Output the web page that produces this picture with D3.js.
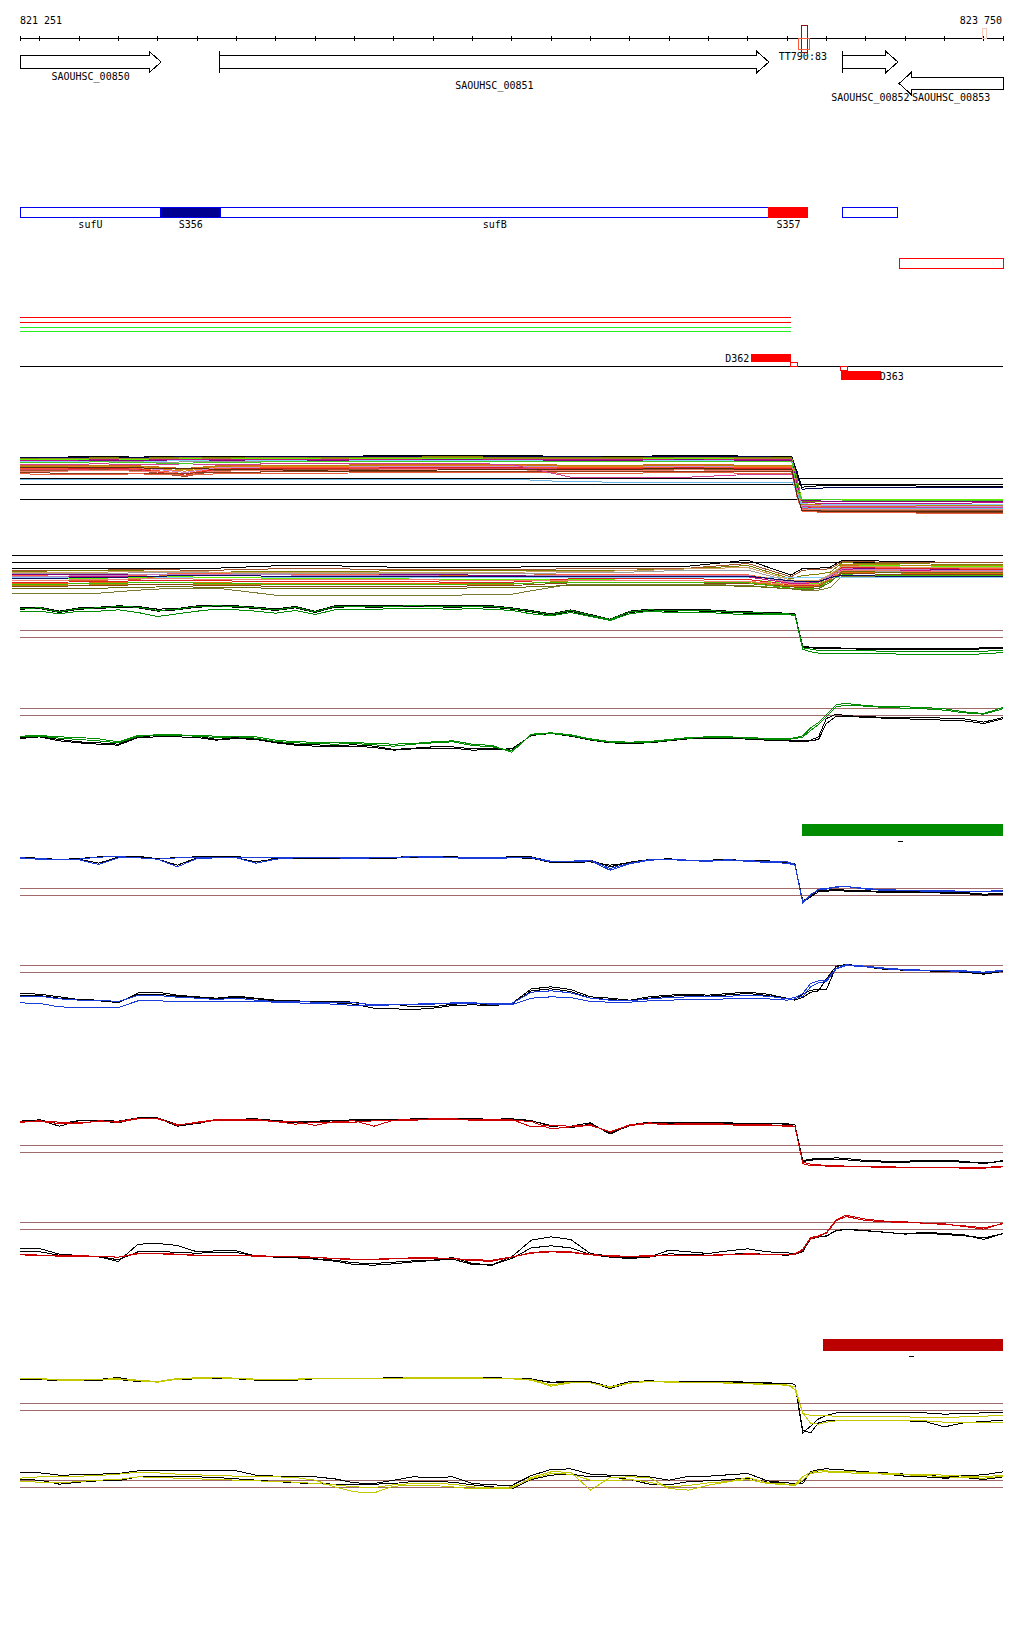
<!DOCTYPE html>
<html>
<head>
<meta charset="utf-8">
<script src="https://cdn.jsdelivr.net/npm/d3@7"></script>
<style>
html,body{margin:0;padding:0;background:#fff;}
svg{display:block;}
text{font-family:"DejaVu Sans Mono","Liberation Mono",monospace;font-size:10px;fill:#000;}
</style>
</head>
<body>
<svg id="chart" width="1024" height="1640" shape-rendering="crispEdges"></svg>
<script>
// ---------------- DATA ----------------
const regionStart = 821251, regionEnd = 823750;

const genes = [
  {name:"SAOUHSC_00850", start:821251, end:821610, strand:1},
  {name:"SAOUHSC_00851", start:821759, end:823155, strand:1},
  {name:"SAOUHSC_00852", start:823343, end:823483, strand:1},
  {name:"SAOUHSC_00853", start:823486, end:823750, strand:-1}
];
const terminatorLabel = {name:"TT790:83", pos:823180};
const terminatorBoxes = [
  {start:823237, end:823253, kind:"dark"},
  {start:823230, end:823258, kind:"light"},
  {start:823697, end:823709, kind:"pale"}
];
const transcripts = [
  {name:"sufU", start:821251, end:821609, kind:"cds"},
  {name:"S356", start:821609, end:821761, kind:"utr"},
  {name:"sufB", start:821761, end:823155, kind:"cds"},
  {name:"S357", start:823155, end:823254, kind:"srna"},
  {name:"",     start:823343, end:823482, kind:"cds"}
];
const antisense = [{start:823486, end:823750}];
const coverageSpans = [
  {start:821251, end:823210, kind:"r"}, {start:821251, end:823210, kind:"r"},
  {start:821251, end:823210, kind:"g"}, {start:821251, end:823210, kind:"g"}
];
const dFeatures = [
  {name:"D362", start:823110, end:823210, strand:1},
  {name:"D363", start:823339, end:823439, strand:-1}
];
const dMarks = [
  {start:823209, end:823228, strand:1},
  {start:823337, end:823354, strand:-1}
];
const greenBlocks = [{start:823239, end:823750}];
const greenDash = [{start:823483, end:823496}];
const redBlocks = [{start:823292, end:823750}];
const redDash = [{start:823511, end:823523}];

// sample positions (bp offset from region start) for the profile panels
const samplePos = [0,50,100,150,200,250,300,350,400,450,500,550,600,650,700,750,800,850,900,950,1000,1050,1100,1150,1200,1250,1300,1350,1400,1450,1500,1550,1600,1650,1700,1750,1800,1850,1900,1950,1970,1990,2010,2030,2050,2075,2100,2150,2200,2250,2300,2350,2400,2450,2499];

const greenFallB1 = [68,70,58,68,70,74,72,64,66,74,76,74,70,65,72,58,74,75,74,75,76,75,74,75,74,68,60,50,62,48,34,58,64,62,63,62,58,56,54,52,50,-48,-50,-52,-52,-52,-53,-53,-54,-54,-55,-55,-54,-52,-52];
const greenFallB2 = [64,66,54,64,66,70,68,58,62,70,72,70,66,60,68,54,70,71,70,71,72,71,70,71,70,64,56,46,58,44,32,54,60,58,59,58,54,52,50,48,46,-50,-52,-54,-54,-55,-55,-56,-56,-57,-57,-58,-57,-55,-54];
const greenFallC1 = [66,68,56,66,68,72,70,60,64,72,74,72,68,62,70,56,72,73,72,73,74,73,72,73,72,66,58,48,60,46,33,56,62,60,61,60,56,54,52,50,48,-52,-56,-60,-60,-60,-61,-61,-62,-62,-63,-63,-64,-62,-60];
const greenFallC2 = [58,58,50,58,58,62,54,42,50,58,64,62,58,52,60,48,62,64,64,65,66,65,64,65,64,60,50,44,54,42,30,50,58,54,55,54,50,48,48,47,46,-56,-64,-68,-68,-69,-70,-70,-70,-71,-72,-72,-72,-70,-66];

const greenRiseB1 = [-87,-83,-93,-100,-103,-107,-85,-81,-81,-83,-93,-87,-91,-101,-107,-109,-111,-109,-113,-123,-119,-115,-115,-121,-119,-125,-79,-73,-81,-93,-101,-103,-101,-95,-89,-87,-87,-90,-93,-95,-97,-97,-95,-85,-30,-17,-21,-25,-26,-27,-27,-29,-31,-41,-27];
const greenRiseB2 = [-90,-85,-97,-103,-107,-110,-87,-85,-85,-87,-95,-90,-93,-103,-110,-113,-115,-113,-117,-125,-121,-119,-119,-125,-123,-121,-81,-75,-83,-95,-103,-105,-103,-97,-91,-89,-89,-92,-95,-97,-99,-100,-97,-93,-45,-23,-23,-27,-29,-31,-33,-35,-37,-45,-31];
const greenRiseC1 = [-83,-81,-85,-87,-91,-100,-81,-79,-79,-81,-83,-83,-85,-95,-100,-101,-103,-102,-105,-107,-105,-100,-97,-107,-111,-131,-77,-73,-79,-91,-99,-101,-99,-93,-87,-85,-85,-87,-90,-91,-88,-82,-58,-42,-18,12,15,9,5,5,3,-1,-10,-15,3];
const greenRiseC2 = [-85,-83,-89,-93,-97,-103,-83,-81,-81,-83,-87,-85,-89,-99,-103,-105,-107,-105,-109,-113,-107,-103,-100,-111,-115,-127,-79,-75,-81,-93,-101,-103,-101,-95,-89,-87,-87,-89,-92,-93,-90,-86,-66,-48,-25,5,10,7,3,1,-1,-5,-13,-17,-1];

const blueFallB1 = [93,91,87,90,95,97,97,89,93,95,95,95,93,91,93,93,93,91,93,93,97,95,95,93,93,95,95,81,81,85,65,79,87,89,85,85,87,83,81,77,73,-37,-23,-5,-5,-3,-5,-7,-9,-9,-10,-11,-12,-17,-15];
const blueFallB2 = [91,89,87,88,76,94,95,88,70,92,93,92,80,89,91,91,91,89,91,91,94,93,92,90,90,92,91,78,78,80,70,77,85,87,83,82,84,84,83,79,74,-40,-26,-10,-8,-6,-8,-10,-11,-12,-12,-14,-15,-20,-18];
const blueFallC1 = [92,90,86,88,94,96,92,88,92,94,94,94,92,92,93,93,93,92,93,93,96,95,94,92,92,94,93,82,82,85,60,76,86,88,85,84,86,84,80,80,72,-40,-18,-4,-2,4,6,-2,-6,-6,-8,-8,-10,-10,-8];
const blueFallC2 = [90,88,86,86,72,92,92,88,65,90,92,92,76,88,92,92,92,90,92,92,95,93,92,90,90,92,92,80,80,83,55,74,85,87,83,82,84,82,78,76,70,-44,-20,-2,0,5,6,0,-4,-5,-6,-7,-8,-9,-5];

const blueRiseB1 = [-84,-86,-94,-102,-104,-112,-82,-80,-89,-94,-98,-92,-98,-104,-106,-108,-108,-110,-120,-116,-124,-124,-116,-114,-118,-114,-70,-64,-72,-94,-98,-104,-94,-89,-86,-89,-84,-80,-86,-98,-102,-86,-74,-72,-72,-4,4,-4,-10,-14,-14,-16,-18,-24,-16];
const blueRiseB2 = [-90,-90,-98,-104,-106,-110,-86,-86,-92,-96,-100,-95,-100,-106,-108,-110,-112,-116,-128,-130,-132,-128,-120,-118,-120,-116,-76,-70,-78,-98,-102,-106,-98,-92,-90,-92,-88,-84,-90,-100,-104,-96,-80,-76,-40,-2,2,-4,-12,-14,-16,-18,-20,-26,-18];
const blueRiseC1 = [-92,-92,-100,-104,-104,-108,-90,-90,-95,-98,-102,-98,-104,-108,-108,-110,-110,-112,-118,-118,-118,-116,-112,-112,-114,-114,-80,-76,-82,-98,-104,-106,-100,-96,-94,-94,-92,-90,-92,-100,-96,-84,-54,-46,-44,-8,2,-2,-8,-12,-14,-16,-16,-20,-14];
const blueRiseC2 = [-112,-114,-124,-126,-126,-126,-106,-106,-108,-108,-108,-108,-108,-110,-112,-114,-116,-120,-120,-118,-116,-114,-114,-114,-116,-118,-98,-94,-96,-108,-110,-110,-106,-104,-102,-102,-100,-100,-100,-104,-100,-92,-64,-52,-48,-10,0,-4,-10,-14,-14,-16,-18,-22,-16];

const redFallB1 = [73,77,65,75,75,73,83,83,63,65,79,79,80,75,71,73,75,77,77,77,80,80,80,80,79,80,75,57,53,65,37,59,69,67,69,69,67,67,67,65,63,-45,-41,-39,-39,-37,-39,-45,-47,-47,-45,-45,-47,-55,-45];
const redFallB2 = [72,76,58,74,74,68,82,82,58,66,78,78,79,74,68,72,74,76,76,76,79,79,79,79,78,79,74,60,58,68,34,62,70,68,70,70,68,66,66,64,62,-48,-44,-42,-42,-41,-43,-48,-50,-50,-48,-48,-50,-52,-48];
const redFallC1 = [72,74,70,66,74,72,82,82,60,70,78,78,78,72,72,60,72,74,58,76,78,80,80,78,77,78,56,60,58,62,40,62,68,64,66,66,64,62,62,60,58,-55,-60,-60,-62,-62,-64,-64,-66,-66,-66,-66,-68,-68,-64];
const redFallC2 = [70,72,66,68,72,70,80,80,62,68,76,76,76,72,64,70,70,70,74,74,76,78,78,76,76,76,72,50,56,60,42,60,66,62,64,64,62,60,60,58,56,-50,-56,-58,-60,-60,-62,-63,-64,-65,-65,-66,-66,-66,-62];

const redRiseB1 = [-78,-78,-95,-99,-103,-117,-65,-63,-69,-88,-85,-85,-101,-103,-105,-109,-113,-121,-123,-119,-115,-113,-105,-123,-127,-103,-53,-43,-51,-93,-101,-105,-103,-83,-88,-93,-85,-79,-88,-91,-93,-88,-48,-43,-41,-25,-21,-25,-29,-35,-29,-33,-37,-51,-33];
const redRiseB2 = [-88,-88,-98,-100,-102,-112,-88,-86,-90,-92,-90,-90,-100,-104,-106,-110,-116,-126,-128,-124,-118,-114,-110,-126,-128,-108,-76,-70,-76,-96,-104,-108,-104,-94,-96,-98,-96,-92,-96,-98,-96,-86,-50,-44,-40,-24,-20,-24,-30,-34,-32,-36,-40,-46,-34];
const redRiseC1 = [-95,-98,-100,-100,-101,-104,-92,-92,-95,-98,-98,-98,-100,-101,-102,-104,-108,-110,-110,-108,-106,-106,-108,-115,-116,-104,-90,-86,-88,-96,-100,-101,-100,-98,-98,-98,-96,-94,-95,-96,-94,-80,-45,-40,-30,8,22,10,4,2,-2,-4,-12,-20,-2];
const redRiseC2 = [-97,-99,-101,-101,-102,-104,-94,-94,-96,-99,-99,-99,-101,-102,-103,-105,-109,-111,-111,-109,-107,-107,-108,-112,-113,-103,-92,-88,-90,-97,-101,-102,-101,-99,-99,-99,-97,-95,-96,-97,-95,-82,-48,-42,-32,5,18,6,2,0,-2,-6,-10,-16,-4];

const yellowFallB1 = [74,74,70,70,72,78,68,64,74,76,78,76,72,72,72,76,76,76,76,77,78,78,78,78,77,76,74,62,64,64,45,62,67,66,65,66,64,62,60,60,58,-88,-68,-46,-36,-28,-28,-27,-27,-27,-28,-32,-30,-28,-26];
const yellowFallB2 = [72,72,68,68,70,72,66,66,72,74,76,74,70,70,70,74,74,74,74,75,76,76,76,76,75,74,72,64,66,66,50,66,68,66,66,66,66,64,62,60,58,-80,-88,-58,-52,-50,-50,-50,-52,-52,-54,-70,-58,-54,-50];
const yellowFallC1 = [75,75,71,72,73,74,70,66,75,77,78,76,73,73,73,76,76,76,76,76,77,77,77,77,76,75,72,56,64,62,50,62,67,65,64,64,62,60,58,56,42,-30,-36,-37,-37,-38,-38,-39,-40,-40,-42,-42,-40,-38,-36];
const yellowFallC2 = [74,74,70,70,72,73,68,64,73,75,77,75,72,72,72,75,75,75,75,75,76,76,76,76,75,74,70,52,62,62,48,61,66,64,63,63,61,59,57,55,50,-28,-60,-62,-56,-52,-50,-50,-52,-52,-52,-56,-58,-56,-56];

const yellowRiseB1 = [23,23,16,17,19,21,29,29,29,29,29,29,16,13,11,11,5,-7,-9,1,11,9,11,-9,-13,-15,15,33,35,19,16,15,11,1,13,13,17,21,-1,-7,-9,-9,26,33,35,33,31,26,23,19,19,9,15,17,26];
const yellowRiseB2 = [3,1,-11,-5,-1,-1,11,13,11,11,9,5,1,-3,-7,-9,-11,-13,-11,-9,-3,-3,-5,-13,-19,-25,3,16,19,11,11,3,-11,-13,-3,-1,3,7,-5,-7,-9,-3,21,29,29,25,23,21,19,13,11,7,9,3,11];
const yellowRiseC1 = [7,11,11,13,15,19,25,23,19,17,15,13,13,11,9,1,-19,-34,-37,-17,-15,-15,-19,-25,-25,-23,9,26,25,-29,9,11,9,-24,-29,-14,-4,9,-7,-11,-13,11,25,29,29,26,26,25,21,19,19,16,13,11,16];
const yellowRiseC2 = [-3,-5,-7,-3,1,3,11,9,7,5,3,1,-1,-3,-5,-9,-13,-19,-21,-13,-9,-9,-11,-19,-23,-19,5,21,19,1,-1,3,-5,-19,-15,-7,-3,3,-9,-13,-15,1,21,25,26,23,23,21,19,17,15,11,9,7,13];

// multi-sample track 1 (knots in bp offset)
const multiKnots1 = [0,100,200,300,360,420,500,650,800,950,1100,1250,1400,1550,1700,1850,1962,1975,1988,2050,2200,2350,2499];
const multiColors1 = ["#000000","#000050","#808000","#9a8a20","#66ee00","#c01080","#800080","#87cefa","#999999","#d2691e","#b8860b","#e08020","#d08ad0","#ff5030","#e02020","#e04060","#a0522d","#f08070","#8b3a1a","#e8603c","#d04090","#6ab4e6","#5a2a0a","#44cc22"];
const multiValues1 = [
 [82,82,84,82,84,85,84,85,85,86,87,86,85,84,88,85,84,40,-8,-2,-4,-5,-5],
 [80,80,82,80,82,83,82,83,83,84,84,84,83,82,84,83,82,30,-14,-10,-9,-9,-9],
 [78,78,80,79,80,82,81,82,81,82,83,82,80,80,82,80,80,20,-50,-52,-52,-51,-50],
 [76,77,78,77,78,80,79,80,79,80,80,79,78,78,80,79,78,10,-48,-50,-50,-49,-49],
 [74,74,76,76,75,77,76,78,76,78,77,76,76,76,78,76,76,0,-44,-44,-44,-44,-44],
 [72,72,74,73,74,75,74,74,74,75,76,75,74,74,76,75,74,0,-55,-56,-56,-56,-55],
 [70,70,71,71,72,72,72,73,72,73,74,73,72,72,74,72,72,-5,-48,-50,-51,-51,-52],
 [68,70,70,70,70,72,70,71,70,72,72,71,70,70,72,70,70,-10,-58,-60,-60,-60,-60],
 [66,66,68,68,66,68,68,68,68,70,70,70,68,68,70,68,68,-10,-62,-62,-62,-62,-62],
 [56,56,58,56,52,48,56,58,58,60,60,60,58,58,60,58,58,-15,-64,-66,-66,-66,-66],
 [54,54,56,54,50,44,54,56,56,58,58,58,56,56,58,56,56,-15,-60,-62,-63,-63,-64],
 [52,52,54,52,46,40,52,54,54,56,56,56,54,54,56,54,54,-20,-66,-68,-68,-68,-68],
 [50,50,52,50,44,36,50,52,52,54,54,54,52,52,54,52,52,-20,-62,-64,-64,-65,-66],
 [48,48,50,48,40,32,48,50,50,52,52,52,50,50,52,50,50,-25,-70,-72,-72,-72,-72],
 [46,46,48,46,36,28,46,48,48,50,50,50,48,48,50,48,48,-25,-68,-70,-70,-70,-71],
 [44,44,46,44,32,25,44,46,46,48,48,48,46,46,48,46,46,-30,-72,-74,-74,-75,-76],
 [42,42,44,42,32,24,42,44,44,46,46,46,44,44,46,44,44,-30,-76,-78,-78,-78,-78],
 [40,40,42,40,38,32,40,42,42,44,44,44,42,42,44,42,42,-30,-74,-76,-76,-76,-76],
 [36,34,34,34,34,34,36,38,38,40,40,40,38,38,40,38,38,-35,-80,-82,-84,-84,-84],
 [32,30,30,32,30,28,32,34,34,36,36,36,34,34,36,34,34,-35,-80,-84,-85,-86,-86],
 [60,60,62,60,60,62,60,62,62,64,64,60,22,22,22,30,30,-20,-66,-70,-70,-70,-70],
 [16,16,16,16,16,16,16,16,16,16,16,16,8,7,7,7,7,-20,-70,-72,-72,-72,-72],
 [50,50,52,50,48,48,46,44,40,42,44,46,46,46,48,46,46,-30,-78,-80,-80,-80,-80],
 [66,66,68,66,64,64,66,68,68,70,70,70,68,68,70,68,68,-10,-46,-46,-48,-48,-48]
];
const multiRefs1 = [18, 0, -45];

// multi-sample track 2
const multiKnots2 = [-20,100,200,300,360,420,500,650,800,950,1100,1250,1400,1550,1700,1850,1960,1990,2030,2060,2090,2200,2350,2499];
const multiColors2 = ["#000000","#a0522d","#808000","#7a7a30","#87cefa","#66ee00","#d2691e","#ff6347","#800080","#c71585","#a0a0a0","#e07000","#b8860b","#e02020","#f08070","#8b4513","#44bb00","#6b6b10","#c080c0","#d2a060","#101060"];
const multiValues2 = [
 [-38,-38,-38,-38,-38,-38,-38,-31,-31,-35,-35,-35,-32,-32,-32,-14,-59,-38,-38,-35,-14,-17,-20,-20],
 [-44,-44,-44,-42,-42,-44,-44,-40,-40,-42,-42,-42,-40,-40,-38,-24,-64,-44,-42,-40,-18,-20,-22,-22],
 [-48,-46,-46,-46,-48,-50,-50,-48,-48,-46,-46,-46,-46,-44,-40,-30,-70,-60,-56,-50,-22,-24,-26,-28],
 [-113,-113,-113,-104,-100,-98,-98,-119,-119,-119,-119,-116,-86,-86,-86,-90,-100,-104,-104,-96,-62,-64,-64,-64],
 [-66,-66,-66,-66,-66,-66,-66,-66,-66,-66,-66,-66,-66,-66,-66,-66,-66,-66,-66,-66,-66,-66,-66,-66],
 [-70,-70,-68,-66,-64,-64,-66,-68,-70,-70,-72,-72,-72,-70,-70,-72,-86,-86,-84,-70,-28,-30,-32,-32],
 [-76,-76,-74,-72,-60,-56,-56,-58,-58,-60,-60,-60,-56,-56,-56,-58,-80,-80,-78,-60,-30,-34,-36,-36],
 [-60,-62,-62,-60,-56,-54,-54,-56,-58,-58,-58,-60,-58,-56,-56,-58,-82,-82,-80,-64,-34,-36,-38,-40],
 [-58,-58,-58,-56,-56,-56,-58,-58,-60,-58,-58,-60,-62,-62,-62,-64,-84,-84,-80,-66,-38,-40,-42,-42],
 [-64,-64,-64,-62,-62,-60,-60,-62,-62,-62,-64,-64,-64,-62,-62,-64,-84,-84,-80,-62,-42,-44,-46,-46],
 [-54,-54,-54,-52,-52,-52,-52,-54,-54,-54,-54,-54,-52,-50,-44,-44,-78,-80,-78,-58,-46,-48,-50,-50],
 [-84,-84,-82,-80,-80,-80,-82,-84,-84,-84,-84,-84,-80,-80,-80,-82,-90,-92,-90,-70,-50,-52,-54,-54],
 [-90,-90,-88,-86,-86,-86,-88,-88,-88,-88,-88,-86,-76,-76,-76,-78,-92,-94,-92,-72,-26,-28,-30,-30],
 [-80,-80,-78,-76,-76,-76,-76,-78,-78,-78,-80,-80,-70,-70,-70,-72,-88,-90,-88,-70,-36,-38,-40,-42],
 [-74,-74,-72,-70,-70,-70,-72,-72,-72,-72,-74,-74,-76,-76,-76,-78,-86,-88,-86,-68,-44,-46,-48,-48],
 [-92,-92,-90,-88,-88,-88,-90,-92,-92,-92,-92,-90,-82,-82,-82,-84,-94,-96,-94,-76,-54,-56,-58,-58],
 [-86,-86,-84,-82,-82,-82,-84,-86,-86,-86,-86,-84,-80,-80,-80,-82,-98,-100,-98,-74,-58,-60,-60,-60],
 [-100,-100,-98,-96,-94,-94,-96,-98,-98,-98,-98,-96,-90,-90,-90,-92,-100,-102,-100,-80,-48,-50,-52,-52],
 [-62,-62,-60,-58,-58,-56,-56,-58,-60,-60,-62,-62,-60,-60,-60,-60,-80,-80,-78,-62,-40,-42,-44,-44],
 [-52,-52,-50,-48,-48,-48,-50,-50,-52,-52,-52,-50,-48,-46,-40,-36,-74,-76,-74,-56,-32,-34,-36,-36],
 [-68,-68,-66,-64,-62,-60,-60,-62,-62,-62,-62,-62,-62,-62,-62,-62,-76,-78,-78,-66,-60,-62,-62,-62]
];
const multiRefs2 = [0, -21];
const panelRefs = [0, -21];

// ---------------- DRAWING ----------------
const svg = d3.select("#chart");
const x = d3.scaleLinear().domain([regionStart, regionEnd]).range([20, 1003]);
const fmt = d3.formatLocale({decimal:".", thousands:" ", grouping:[3], currency:["",""]}).format(",d");

// coordinate axis
const tickVals = d3.range(821300, regionEnd, 100).concat([regionStart, regionEnd]);
const axisG = svg.append("g").attr("transform", "translate(0,38)");
axisG.call(d3.axisBottom(x).tickValues(tickVals).tickSize(3).tickSizeOuter(0).tickFormat(""));
axisG.select(".domain").attr("d", `M${x(regionStart)},0.5H${x(regionEnd)}`).attr("stroke", "#000");
axisG.selectAll(".tick line").attr("y1", -2).attr("y2", 3).attr("stroke", "#000");
svg.append("text").attr("x", 20).attr("y", 24).text(fmt(regionStart));
svg.append("text").attr("x", 1002).attr("y", 24).attr("text-anchor", "end").text(fmt(regionEnd));

// genes
const geneLabelY = {"SAOUHSC_00850":79.5, "SAOUHSC_00851":89, "SAOUHSC_00852":101, "SAOUHSC_00853":101};
const headLen = 12;
genes.forEach(g => {
  const x0 = x(g.start), x1 = x(g.end);
  let pts;
  if (g.strand > 0) {
    const t = 55.5, b = 68.5, ht = 51.5, hb = 72.5, m = 62;
    const hx = x1 - headLen;
    pts = [[x0,t],[hx,t],[hx,ht],[x1,m],[hx,hb],[hx,b],[x0,b]];
    if (g.start > regionStart) {
      svg.append("line").attr("x1", x0).attr("x2", x0).attr("y1", 51).attr("y2", 73).attr("stroke", "#000");
    }
  } else {
    const t = 77.5, b = 89.5, ht = 72.5, hb = 94.5, m = 83.5;
    const hx = x0 + headLen;
    pts = [[x1,t],[hx,t],[hx,ht],[x0,m],[hx,hb],[hx,b],[x1,b]];
  }
  svg.append("polygon").attr("points", pts.map(p => p.join(",")).join(" "))
    .attr("fill", "#fff").attr("stroke", "#000").attr("stroke-width", 1);
  svg.append("text").attr("x", (x0 + x1) / 2).attr("y", geneLabelY[g.name])
    .attr("text-anchor", "middle").text(g.name);
});
svg.append("text").attr("x", x(terminatorLabel.pos)).attr("y", 60).text(terminatorLabel.name);
const termStyle = {dark:{c:"#8b1010", y:25.5, h:27}, light:{c:"#ff5a3c", y:38.5, h:11}, pale:{c:"#f7c8b8", y:28.5, h:10}};
terminatorBoxes.forEach(b => {
  const s = termStyle[b.kind];
  svg.append("rect").attr("x", x(b.start)).attr("y", s.y).attr("width", x(b.end) - x(b.start)).attr("height", s.h)
    .attr("fill", "none").attr("stroke", s.c);
});

// transcripts row
transcripts.forEach(t => {
  const x0 = x(t.start), x1 = x(t.end);
  const r = svg.append("rect").attr("x", x0).attr("y", 207.5).attr("width", x1 - x0).attr("height", 10);
  if (t.kind === "cds") r.attr("fill", "#fff").attr("stroke", "#0000ee");
  else if (t.kind === "utr") r.attr("fill", "#000090").attr("stroke", "#0000ee");
  else r.attr("fill", "#ff0000").attr("stroke", "#ff0000");
  if (t.name) svg.append("text").attr("x", (x0 + x1) / 2).attr("y", 227.5).attr("text-anchor", "middle").text(t.name);
});
antisense.forEach(a => {
  svg.append("rect").attr("x", x(a.start)).attr("y", 258.5).attr("width", x(a.end) - x(a.start)).attr("height", 10)
    .attr("fill", "#fff").attr("stroke", "#ff0000");
});
const covY = [317.5, 322.5, 327.5, 331.5];
coverageSpans.forEach((c, i) => {
  svg.append("line").attr("x1", x(c.start)).attr("x2", x(c.end)).attr("y1", covY[i]).attr("y2", covY[i])
    .attr("stroke", c.kind === "r" ? "#ff0000" : "#22ee22");
});

// D features row
svg.append("line").attr("x1", x(regionStart)).attr("x2", x(regionEnd)).attr("y1", 366.5).attr("y2", 366.5).attr("stroke", "#000");
dFeatures.forEach(d => {
  const x0 = x(d.start), x1 = x(d.end);
  const y0 = d.strand > 0 ? 353.5 : 371;
  svg.append("rect").attr("x", x0).attr("y", y0).attr("width", x1 - x0).attr("height", 8.5).attr("fill", "#ff0000");
  if (d.strand > 0) svg.append("text").attr("x", x0 - 2).attr("y", 361.5).attr("text-anchor", "end").text(d.name);
  else svg.append("text").attr("x", x1 - 1).attr("y", 380).text(d.name);
});
dMarks.forEach(m => {
  svg.append("rect").attr("x", x(m.start)).attr("y", m.strand > 0 ? 362.5 : 366.5)
    .attr("width", x(m.end) - x(m.start)).attr("height", 4).attr("fill", "#fff").attr("stroke", "#ff0000");
});

// multi-sample tracks
function drawMulti(knots, values, colors, refs, refY, x0bp) {
  const y = d3.scaleLinear().domain([0, -3]).range([refY, refY + 1]);
  refs.forEach(r => {
    svg.append("line").attr("x1", x(x0bp)).attr("x2", x(regionEnd)).attr("y1", y(r)).attr("y2", y(r)).attr("stroke", "#000");
  });
  const line = d3.line().x(d => x(regionStart + d[0])).y(d => y(d[1]));
  values.forEach((vals, i) => {
    svg.append("path").attr("d", line(knots.map((k, j) => [k, vals[j]])))
      .attr("fill", "none").attr("stroke", colors[i]).attr("stroke-width", 1);
  });
}
drawMulti(multiKnots1, multiValues1, multiColors1, multiRefs1, 484.5, regionStart);
drawMulti(multiKnots2, multiValues2, multiColors2, multiRefs2, 555.5, regionStart - 20);

// profile panels
const panels = [
  {refY:630.5, color:"#008c00", lines:[greenFallB1, greenFallB2, greenFallC1, greenFallC2]},
  {refY:708.5, color:"#008c00", lines:[greenRiseB1, greenRiseB2, greenRiseC1, greenRiseC2]},
  {refY:888.5, color:"#1a3cd8", lines:[blueFallB1, blueFallB2, blueFallC1, blueFallC2]},
  {refY:965.5, color:"#1a3cd8", lines:[blueRiseB1, blueRiseB2, blueRiseC1, blueRiseC2]},
  {refY:1145.5, color:"#cc0000", lines:[redFallB1, redFallB2, redFallC1, redFallC2]},
  {refY:1222.5, color:"#cc0000", lines:[redRiseB1, redRiseB2, redRiseC1, redRiseC2]},
  {refY:1403.5, color:"#c4c800", lines:[yellowFallB1, yellowFallB2, yellowFallC1, yellowFallC2]},
  {refY:1480.5, color:"#c4c800", lines:[yellowRiseB1, yellowRiseB2, yellowRiseC1, yellowRiseC2]}
];
panels.forEach(p => {
  const y = d3.scaleLinear().domain([0, -21]).range([p.refY, p.refY + 7]);
  panelRefs.forEach(r => {
    svg.append("line").attr("x1", x(regionStart)).attr("x2", x(regionEnd)).attr("y1", y(r)).attr("y2", y(r)).attr("stroke", "#a06a6a");
  });
  const line = d3.line().x(d => x(regionStart + d[0])).y(d => y(d[1]));
  p.lines.forEach((vals, i) => {
    svg.append("path").attr("d", line(samplePos.map((s, j) => [s, vals[j]])))
      .attr("fill", "none").attr("stroke", i < 2 ? "#000" : p.color).attr("stroke-width", 1);
  });
});

// blocks
greenBlocks.forEach(b => svg.append("rect").attr("x", x(b.start)).attr("y", 824).attr("width", x(b.end) - x(b.start)).attr("height", 12).attr("fill", "#008c00"));
greenDash.forEach(b => svg.append("line").attr("x1", x(b.start)).attr("x2", x(b.end)).attr("y1", 841.5).attr("y2", 841.5).attr("stroke", "#000"));
redBlocks.forEach(b => svg.append("rect").attr("x", x(b.start)).attr("y", 1339).attr("width", x(b.end) - x(b.start)).attr("height", 12).attr("fill", "#bb0000"));
redDash.forEach(b => svg.append("line").attr("x1", x(b.start)).attr("x2", x(b.end)).attr("y1", 1356.5).attr("y2", 1356.5).attr("stroke", "#000"));
</script>
</body>
</html>
